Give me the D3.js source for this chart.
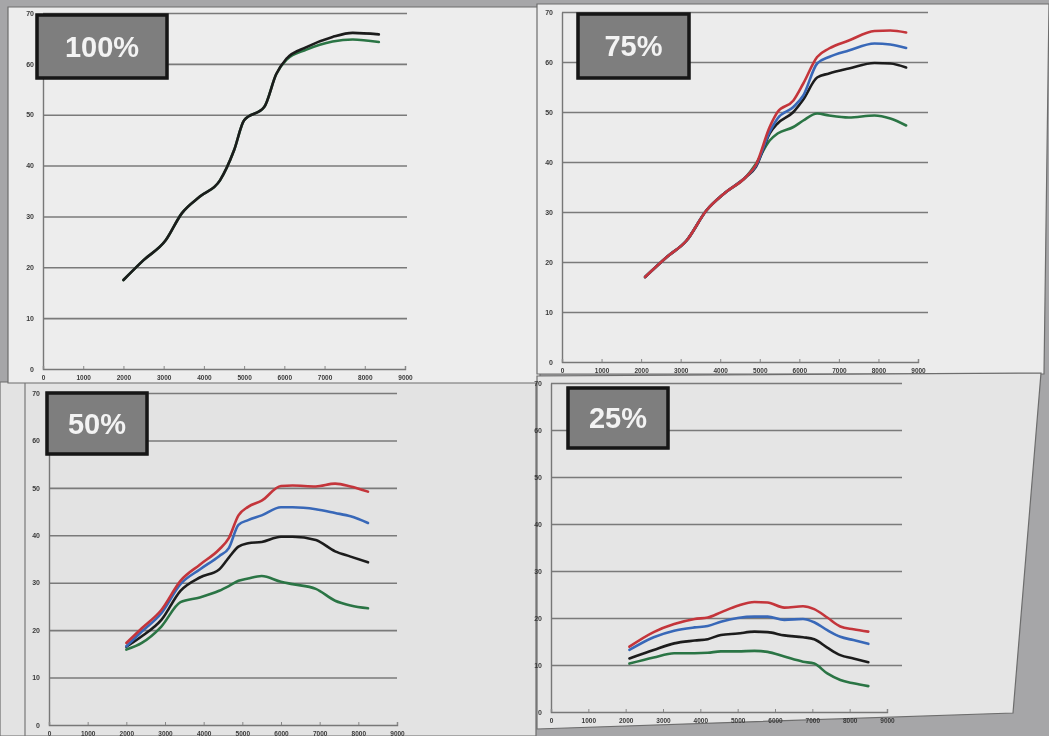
<!DOCTYPE html>
<html>
<head>
<meta charset="utf-8">
<script src="https://cdn.jsdelivr.net/npm/d3@7.9.0/dist/d3.min.js"></script>
<style>
  html, body { margin: 0; padding: 0; background: #a6a6a8; }
  svg { display: block; }
  .tick text { font-family: "Liberation Sans", Arial, sans-serif; font-weight: bold; }
</style>
</head>
<body>
<svg id="chart" width="1049" height="736"></svg>
<script>
/* ---------------- DATA ---------------- */

const yTicks = [0, 10, 20, 30, 40, 50, 60, 70];
const xTicks = [0, 1000, 2000, 3000, 4000, 5000, 6000, 7000, 8000, 9000];
const panelLabels = ["100%", "75%", "50%", "25%"];

// 100% panel
const rpm100   = [2000, 2500, 3050, 3450, 3900, 4400, 4750, 5000, 5500, 5800, 6050, 6550, 7200, 7700, 8350];
const black100 = [17.5, 21.4, 25.3, 30.6, 33.9, 37.1, 43.0, 48.9, 51.5, 58.0, 61.0, 63.3, 65.3, 66.1, 65.8];
const green100 = [17.5, 21.4, 25.3, 30.6, 33.9, 37.1, 43.0, 48.9, 51.5, 58.0, 60.8, 62.8, 64.4, 64.8, 64.3];

// 75% panel
const rpm75   = [2100, 2650, 3150, 3650, 4100, 4650, 4900, 5250, 5450, 5850, 6100, 6450, 6750, 7250, 7900, 8300, 8700];
const red75   = [17.0, 21.0, 24.3, 30.3, 33.7, 37.0, 39.4, 47.0, 50.0, 52.3, 55.7, 61.0, 62.7, 64.3, 66.2, 66.3, 65.9];
const blue75  = [17.0, 21.0, 24.3, 30.3, 33.7, 37.0, 39.2, 46.0, 48.7, 51.0, 53.3, 59.7, 61.0, 62.3, 63.7, 63.5, 62.8];
const black75 = [17.0, 21.0, 24.3, 30.3, 33.7, 37.0, 39.0, 45.7, 47.7, 50.0, 52.5, 56.9, 57.7, 58.7, 59.8, 59.7, 58.9];
const green75 = [17.0, 21.0, 24.3, 30.3, 33.7, 37.0, 39.6, 44.3, 45.7, 47.0, 48.3, 49.7, 49.3, 48.9, 49.3, 48.7, 47.3];

// 50% panel
const rpm50   = [2000, 2400, 2900, 3400, 3900, 4400, 4650, 4900, 5150, 5500, 6000, 6300, 6900, 7400, 7800, 8250];
const red50   = [17.3, 20.4, 24.2, 30.4, 33.8, 37.0, 39.4, 44.2, 46.0, 47.3, 50.4, 50.5, 50.3, 50.9, 50.3, 49.2];
const blue50  = [16.6, 19.7, 23.5, 29.7, 32.8, 35.6, 37.3, 42.2, 43.2, 44.2, 45.9, 45.9, 45.5, 44.7, 44.0, 42.6];
const black50 = [16.5, 18.7, 22.1, 28.3, 31.1, 32.8, 35.3, 37.6, 38.3, 38.6, 39.7, 39.7, 39.0, 36.6, 35.5, 34.3];
const green50 = [15.9, 17.3, 20.7, 25.9, 26.9, 28.3, 29.3, 30.4, 30.9, 31.4, 30.2, 29.7, 28.7, 26.2, 25.2, 24.6];

// 25% panel
const rpm25   = [2100, 2750, 3300, 3850, 4200, 4550, 5000, 5450, 5800, 6250, 6750, 7050, 7400, 7750, 8100, 8500];
const red25   = [13.9, 17.0, 18.7, 19.8, 20.1, 21.2, 22.6, 23.4, 23.3, 22.2, 22.5, 21.9, 20.1, 18.2, 17.6, 17.1];
const blue25  = [13.2, 15.9, 17.3, 18.0, 18.3, 19.2, 20.0, 20.3, 20.3, 19.6, 19.8, 19.1, 17.4, 16.0, 15.3, 14.5];
const black25 = [11.4, 13.2, 14.6, 15.2, 15.5, 16.4, 16.7, 17.1, 17.0, 16.3, 15.9, 15.5, 13.7, 12.1, 11.4, 10.6];
const green25 = [10.3, 11.6, 12.5, 12.5, 12.6, 12.9, 12.9, 13.0, 12.8, 11.8, 10.7, 10.3,  8.2,  6.8,  6.1,  5.5];

/* ---------------- STYLE / LAYOUT ---------------- */

const colors = { red: "#c4353a", blue: "#3867b8", black: "#1c1c1c", green: "#2c7444" };

const panels = [
  { rpm: rpm100, series: [["green", green100], ["black", black100]] },
  { rpm: rpm75,  series: [["green", green75], ["black", black75], ["blue", blue75], ["red", red75]] },
  { rpm: rpm50,  series: [["green", green50], ["black", black50], ["blue", blue50], ["red", red50]] },
  { rpm: rpm25,  series: [["green", green25], ["black", black25], ["blue", blue25], ["red", red25]] },
];

// plot frames as they sit on the photographed sheets
const frames = [
  { x0: 43,  x1: 405, gridEnd: 407, y0: 369, y1: 13,  box: [37, 15, 130, 63] },
  { x0: 562, x1: 918, gridEnd: 928, y0: 362, y1: 12,  box: [578, 14, 111, 64] },
  { x0: 49,  x1: 397, gridEnd: 397, y0: 725, y1: 393, box: [47, 393, 100, 61] },
  { x0: 551, x1: 887, gridEnd: 902, y0: 712, y1: 383, box: [568, 388, 100, 60] },
];

const svg = d3.select("#chart");

const defs = svg.append("defs");
defs.append("filter").attr("id", "soft")
  .append("feGaussianBlur").attr("stdDeviation", 0.45);

/* ---------------- SHEETS ---------------- */

svg.append("rect").attr("width", 1049).attr("height", 736).attr("fill", "#a6a6a8");

const sheets = [
  { pts: [[0, 382], [536, 382], [536, 736], [0, 736]], fill: "#e3e3e3" },
  { pts: [[8, 7], [540, 7], [540, 383], [8, 383]], fill: "#ededed" },
  { pts: [[537, 4], [1049, 4], [1044, 374], [537, 374]], fill: "#ececec" },
  { pts: [[537, 376], [1041, 373], [1013, 713], [537, 729]], fill: "#e5e5e5" },
];

svg.append("rect").attr("x", 0).attr("y", 382).attr("width", 25).attr("height", 354).attr("fill", "#c9c9c9");

svg.selectAll("polygon.sheet")
  .data(sheets)
  .join("polygon")
  .attr("class", "sheet")
  .attr("points", d => d.pts.map(p => p.join(",")).join(" "))
  .attr("fill", d => d.fill)
  .attr("stroke", "#6d6d6d")
  .attr("stroke-width", 1.2);

svg.append("line").attr("x1", 25).attr("x2", 25).attr("y1", 383).attr("y2", 736)
  .attr("stroke", "#777").attr("stroke-width", 1.2);

/* ---------------- PANELS ---------------- */

panels.forEach((p, i) => {
  const f = frames[i];
  const g = svg.append("g").attr("filter", "url(#soft)");

  const x = d3.scaleLinear().domain([0, 9000]).range([f.x0, f.x1]);
  const y = d3.scaleLinear().domain([0, 70]).range([f.y0, f.y1]);

  // gridlines
  g.append("g")
    .attr("transform", `translate(${f.x0},0)`)
    .call(d3.axisLeft(y).tickValues(yTicks.slice(1)).tickFormat("").tickSize(-(f.gridEnd - f.x0)))
    .call(a => a.select(".domain").remove())
    .call(a => a.selectAll("line").attr("stroke", "#7a7a7a").attr("stroke-width", 1.6));

  // y axis
  g.append("g")
    .attr("transform", `translate(${f.x0},0)`)
    .call(d3.axisLeft(y).tickValues(yTicks).tickFormat(d3.format("d")).tickSize(0).tickPadding(9))
    .call(a => a.select(".domain").attr("stroke", "#777").attr("stroke-width", 1.4))
    .call(a => a.selectAll("text").attr("font-size", 7).attr("fill", "#3a3a3a"));

  // x axis
  g.append("g")
    .attr("transform", `translate(0,${f.y0})`)
    .call(d3.axisBottom(x).tickValues(xTicks).tickFormat(d3.format("d")).tickSize(-3).tickPadding(6))
    .call(a => a.select(".domain").attr("stroke", "#777").attr("stroke-width", 1.4))
    .call(a => a.selectAll("line").attr("stroke", "#888"))
    .call(a => a.selectAll("text").attr("font-size", 6.5).attr("fill", "#3a3a3a"));

  // lines
  const line = d3.line()
    .x((d, k) => x(p.rpm[k]))
    .y(d => y(d))
    .curve(d3.curveMonotoneX);

  g.selectAll("path.series")
    .data(p.series)
    .join("path")
    .attr("class", "series")
    .attr("d", d => line(d[1]))
    .attr("fill", "none")
    .attr("stroke", d => colors[d[0]])
    .attr("stroke-width", 2.6)
    .attr("stroke-linejoin", "round")
    .attr("stroke-linecap", "round");

  // label box
  const [bx, by, bw, bh] = f.box;
  g.append("rect")
    .attr("x", bx).attr("y", by).attr("width", bw).attr("height", bh)
    .attr("fill", "#7e7e7e")
    .attr("stroke", "#151515")
    .attr("stroke-width", 3.5);

  g.append("text")
    .attr("x", bx + bw / 2)
    .attr("y", by + bh / 2 + 10)
    .attr("text-anchor", "middle")
    .attr("font-family", "Liberation Sans, Arial, sans-serif")
    .attr("font-weight", "bold")
    .attr("font-size", 29)
    .attr("fill", "#f3f3f3")
    .text(panelLabels[i]);
});
</script>
</body>
</html>
